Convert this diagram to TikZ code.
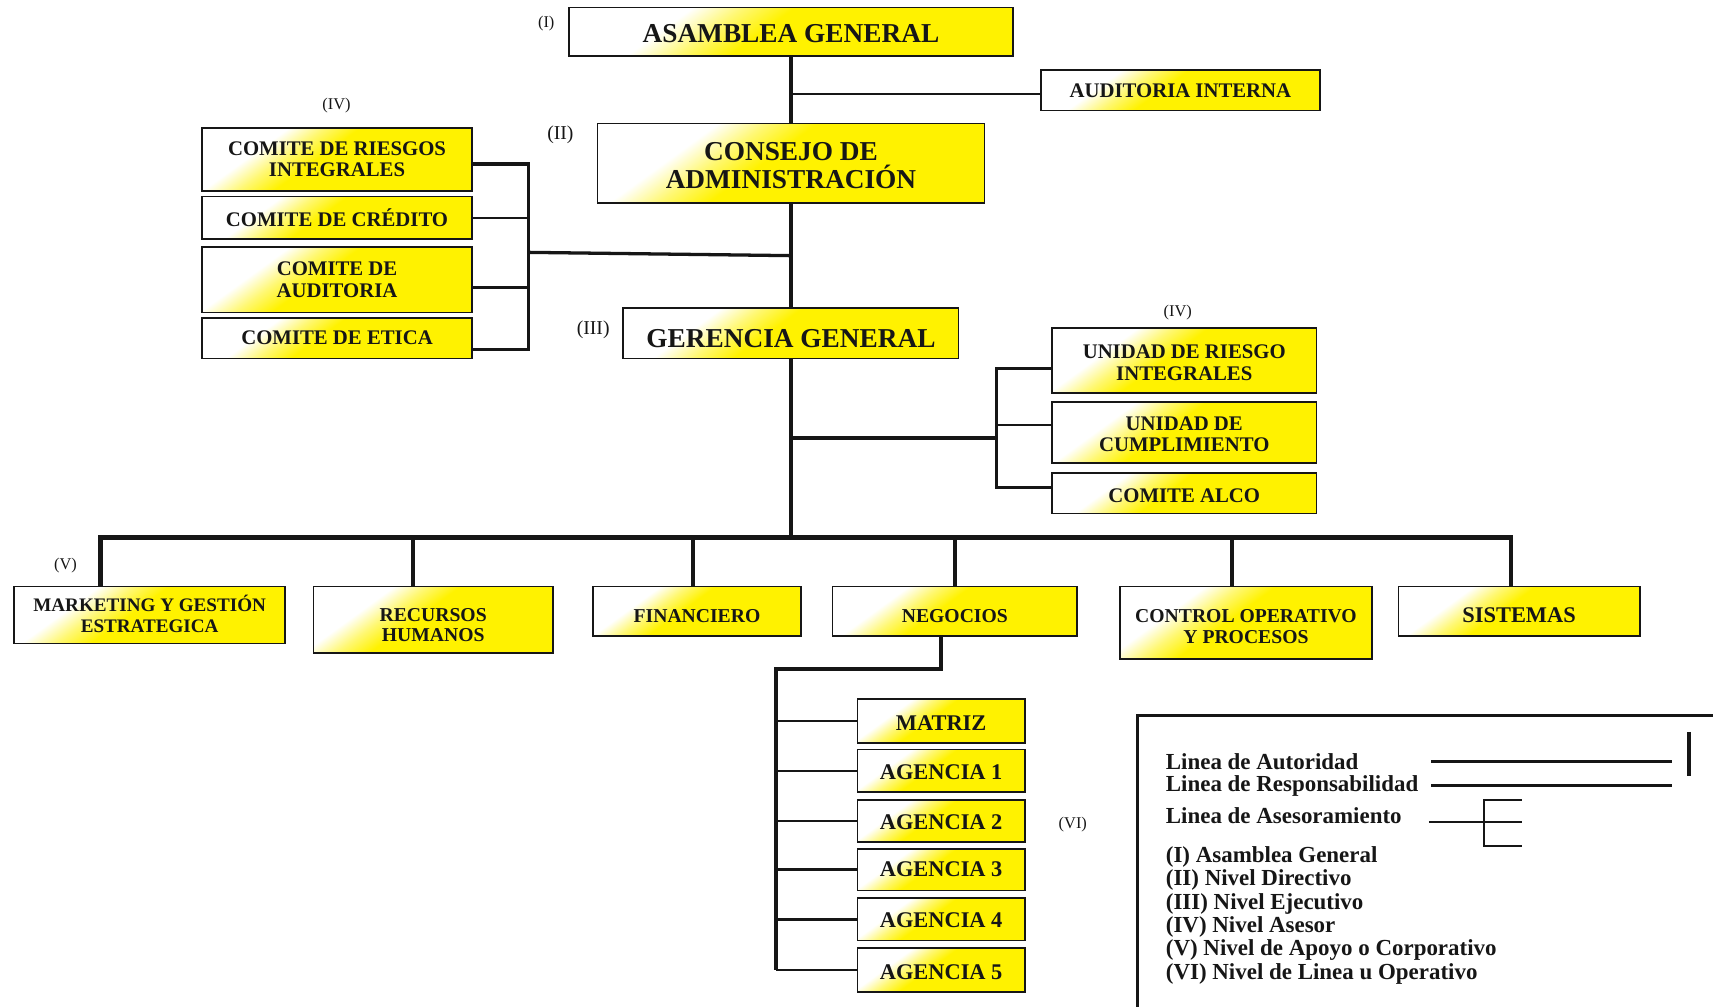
\documentclass[tikz,border=0pt]{standalone}
\usepackage{fontspec}
\setmainfont{Liberation Serif}
\definecolor{ink}{HTML}{161616}
\definecolor{gold}{HTML}{FFF200}
% white-to-yellow fill used by every box
\pgfdeclarehorizontalshading{wyshade}{100bp}{color(0bp)=(white); color(32bp)=(white); color(39bp)=(gold!55!white); color(46bp)=(gold); color(100bp)=(gold)}

\begin{document}
\begin{tikzpicture}[x=1pt,y=-1pt,
  every node/.style={text=ink},
  ubox/.style={draw=ink, line width=1.5pt, shading=wyshade, shading angle=-54, inner sep=0pt},
  sz/.style 2 args={minimum width=#1pt, minimum height=#2pt},
  btxt/.style={inner sep=0pt, align=center, text=ink},
  bt/.style 2 args={label={[btxt,#2]center:{#1}}},
  fa/.style={font=\bfseries\fontsize{25}{26}\selectfont},
  fb/.style={font=\bfseries\fontsize{19}{19.5}\selectfont},
  fc/.style={font=\bfseries\fontsize{18}{18.5}\selectfont},
  fm/.style={font=\bfseries\fontsize{17.5}{18.5}\selectfont},
  fd/.style={font=\bfseries\fontsize{20.5}{21}\selectfont},
  lvl/.style={inner sep=0pt, font=\fontsize{15}{16}\selectfont},
  lvlb/.style={inner sep=0pt, font=\fontsize{18}{19}\selectfont},
  main/.style={draw=ink, line width=3.8pt, line join=miter},
  midl/.style={draw=ink, line width=3pt, line join=miter},
  thinl/.style={draw=ink, line width=2.2pt},
  leg/.style={anchor=west, inner sep=0pt, font=\bfseries\fontsize{21}{22}\selectfont},
]
\useasboundingbox (0,0) rectangle (1568,921);
\clip (0,0) rectangle (1568,921);
\fill[white] (0,0) rectangle (1568,921);

% ---------- top levels ----------
\node[ubox, sz={406}{44}, bt={ASAMBLEA GENERAL}{fa,yshift=-2pt}] (asam) at (724,29) {};
\node[ubox, sz={255}{37}, bt={AUDITORIA INTERNA}{fb,yshift=-0.5pt}] (aud) at (1080.5,82.5) {};
\node[ubox, sz={354}{73}, bt={CONSEJO DE\\ADMINISTRACIÓN}{fa,yshift=-2pt}] (cons) at (724,149.5) {};
\node[ubox, sz={307}{46}, bt={GERENCIA GENERAL}{fa,yshift=-5pt}] (ger) at (724,305) {};

% ---------- committees (left) ----------
\node[ubox, sz={247}{58}, bt={COMITE DE RIESGOS\\INTEGRALES}{fb}] (c1) at (308.5,146) {};
\node[ubox, sz={247}{39}, bt={COMITE DE CRÉDITO}{fb}] (c2) at (308.5,199.5) {};
\node[ubox, sz={247}{60}, bt={COMITE DE\\AUDITORIA}{fb}] (c3) at (308.5,256) {};
\node[ubox, sz={247}{37}, bt={COMITE DE ETICA}{fb}] (c4) at (308.5,309.5) {};

% ---------- units (right) ----------
\node[ubox, sz={242}{60}, bt={UNIDAD DE RIESGO\\INTEGRALES}{fb,yshift=-2pt}] (u1) at (1084,330) {};
\node[ubox, sz={242}{56}, bt={UNIDAD DE\\CUMPLIMIENTO}{fb,yshift=-1.5pt}] (u2) at (1084,396) {};
\node[ubox, sz={242}{37}, bt={COMITE ALCO}{fb,yshift=-2pt}] (u3) at (1084,451.5) {};

% ---------- support level ----------
\node[ubox, sz={248}{52}, bt={MARKETING Y GESTIÓN\\ESTRATEGICA}{fm,yshift=1pt}] (m1) at (137,563) {};
\node[ubox, sz={219}{61}, bt={RECURSOS\\HUMANOS}{fc,yshift=-5pt}] (m2) at (396.5,567.5) {};
\node[ubox, sz={190}{45}, bt={FINANCIERO}{fc,yshift=-4.5pt}] (m3) at (638,559.5) {};
\node[ubox, sz={224}{45}, bt={NEGOCIOS}{fc,yshift=-4.5pt}] (m4) at (874,559.5) {};
\node[ubox, sz={231}{66}, bt={CONTROL OPERATIVO\\Y PROCESOS}{fc,yshift=-3.5pt}] (m5) at (1140.5,570) {};
\node[ubox, sz={221}{45}, bt={SISTEMAS}{fd,yshift=-3.5pt}] (m6) at (1390.5,559.5) {};

% ---------- branches ----------
\node[ubox, sz={153}{40}, bt={MATRIZ}{fd,yshift=-1.5pt}] (a0) at (861.5,660) {};
\node[ubox, sz={153}{39}, bt={AGENCIA 1}{fd,yshift=-1.5pt}] (a1) at (861.5,705.5) {};
\node[ubox, sz={153}{39}, bt={AGENCIA 2}{fd,yshift=-1pt}] (a2) at (861.5,751.5) {};
\node[ubox, sz={153}{38}, bt={AGENCIA 3}{fd}] (a3) at (861.5,796) {};
\node[ubox, sz={153}{39}, bt={AGENCIA 4}{fd,yshift=-1pt}] (a4) at (861.5,841.5) {};
\node[ubox, sz={153}{40}, bt={AGENCIA 5}{fd,yshift=-2pt}] (a5) at (861.5,888) {};

% ---------- level marks ----------
\node[lvl]  (l1)  at (500,22)  {(I)};
\node[lvlb] (l2)  at (513,123) {(II)};
\node[lvlb] (l3)  at (543,302) {(III)};
\node[lvl]  (l4a) at (308,97)  {(IV)};
\node[lvl]  (l4b) at (1078,286) {(IV)};
\node[lvl]  (l5)  at (60,518)  {(V)};
\node[lvl]  (l6)  at (982,755) {(VI)};

% ---------- junction points ----------
\coordinate (jA) at (724,86);
\coordinate (jC) at (724,234);
\coordinate (brC) at (484,231);
\coordinate (brTop) at (484,150);
\coordinate (brBot) at (484,320);
\coordinate (c3j) at (484,263);
\coordinate (jU) at (724,401);
\coordinate (ubTop) at (912,337);
\coordinate (ubMid) at (912,389);
\coordinate (ubBot) at (912,446);
\coordinate (busC) at (724,492);
\coordinate (busL) at (92,492);
\coordinate (busR) at (1383,492);
\coordinate (d2) at (378,492);
\coordinate (d3) at (634,492);
\coordinate (d4) at (874,492);
\coordinate (d5) at (1128,492);
\coordinate (nk) at (861,612);
\coordinate (av) at (710,612);
\coordinate (avBot) at (710,888);

% ---------- authority lines ----------
\draw[main] (asam.south) -- (cons.north);
\draw[main] (cons.south) -- (ger.north);
\draw[main] (ger.south) -- (busC);
\draw[thinl] (jA) -- (jA -| aud.west);

% committees bracket
\draw[midl] (brC) -- (jC);
\draw[midl] (c1.east |- brTop) -- (brTop) -- (brBot) -- (c4.east |- brBot);
\draw[thinl] (c2.east) -- (c2.east -| brTop);
\draw[thinl] (c3j -| c3.east) -- (c3j);

% units bracket
\draw[midl] (jU) -- (jU -| ubTop);
\draw[midl] (u1.west |- ubTop) -- (ubTop) -- (ubBot) -- (u3.west |- ubBot);
\draw[thinl] (ubMid) -- (ubMid -| u2.west);

% support bus
\draw[main] (busL |- m1.north) -- (busL) -- (busR) -- (busR |- m6.north);
\draw[main] (d2) -- (d2 |- m2.north);
\draw[main] (d3) -- (d3 |- m3.north);
\draw[main] (d4) -- (d4 |- m4.north);
\draw[main] (d5) -- (d5 |- m5.north);

% branches
\draw[main] (nk |- m4.south) -- (nk) -- (av) -- (avBot);
\foreach \a in {a0,a1,a2,a3,a4,a5}
  \draw[thinl] (av |- \a.west) -- (\a.west);

% ---------- legend ----------
\draw[draw=ink, line width=3pt] (1041,940) -- (1041,655) -- (1590,655);
\node[leg] (t1) at (1067,697) {Linea de Autoridad};
\node[leg] (t2) at (1067,719) {Linea de Responsabilidad};
\node[leg] (t3) at (1067,747) {Linea de Asesoramiento};
\node[leg] (t4) at (1067,784) {(I) Asamblea General};
\node[leg] (t5) at (1067,805.5) {(II) Nivel Directivo};
\node[leg] (t6) at (1067,827) {(III) Nivel Ejecutivo};
\node[leg] (t7) at (1067,848.5) {(IV) Nivel Asesor};
\node[leg] (t8) at (1067,870) {(V) Nivel de Apoyo o Corporativo};
\node[leg] (t9) at (1067,891.5) {(VI) Nivel de Linea u Operativo};

\coordinate (k1a) at (1310,697);
\coordinate (k1b) at (1530,697);
\coordinate (k1t) at (1546,670);
\coordinate (k1u) at (1546,710);
\coordinate (k2a) at (1310,719);
\coordinate (k2b) at (1530,719);
\coordinate (k3a) at (1308,752);
\coordinate (k3b) at (1393,752);
\coordinate (k3t) at (1358,732);
\coordinate (k3u) at (1358,774);
\draw[draw=ink, line width=3.5pt] (k1a) -- (k1b);
\draw[draw=ink, line width=3.5pt] (k1t) -- (k1u);
\draw[draw=ink, line width=2.4pt] (k2a) -- (k2b);
\draw[draw=ink, line width=1.8pt] (k3a) -- (k3b);
\draw[draw=ink, line width=1.8pt] (k3t -| 1393,0) -- (k3t) -- (k3u) -- (k3u -| 1393,0);
\end{tikzpicture}
\end{document}
